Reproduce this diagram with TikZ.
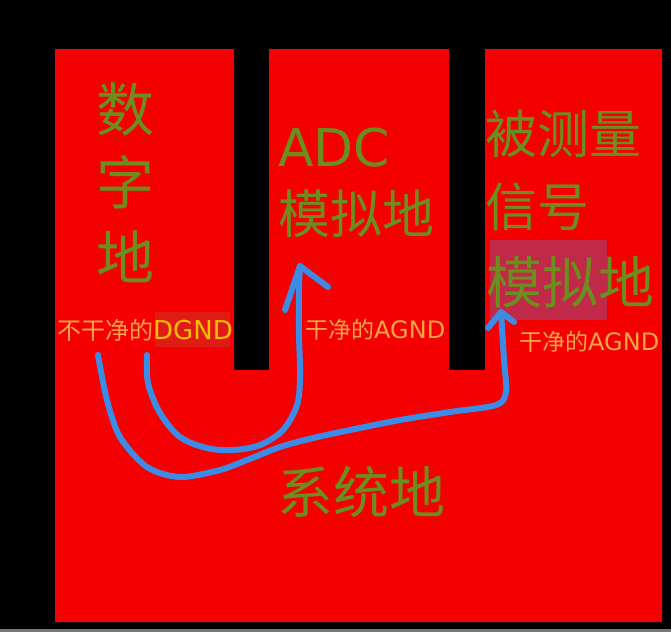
\documentclass[tikz,border=0pt]{standalone}
\usepackage{fontspec}
\newfontfamily\cjk{Noto Sans CJK SC}
\newfontfamily\lat{DejaVu Sans}
\definecolor{bgred}{RGB}{245,0,0}
\definecolor{txtgreen}{RGB}{108,142,30}
\definecolor{lblorange}{RGB}{255,165,70}
\definecolor{dgndyellow}{RGB}{255,190,0}
\definecolor{dgndbox}{RGB}{222,28,20}
\definecolor{pinkbox}{RGB}{192,42,72}
\definecolor{flowblue}{RGB}{60,140,230}
\definecolor{edgegray}{RGB}{120,120,120}
\begin{document}
\begin{tikzpicture}[x=1pt,y=-1pt,
  bigtxt/.style={inner sep=0pt,text=txtgreen,font=\cjk\fontsize{58}{58}\selectfont},
  midtxt/.style={inner sep=0pt,text=txtgreen,font=\cjk\fontsize{52}{52}\selectfont},
  lbl/.style={inner sep=0pt,text=lblorange,font=\cjk\fontsize{23}{23}\selectfont},
  flow/.style={draw=flowblue,line width=6pt,line cap=round,line join=round}]
% background
\fill[black] (0,0) rectangle (671,632);
\fill[edgegray] (0,629) rectangle (671,632);
\useasboundingbox (0,0) rectangle (671,632);
% red ground plane (comb shape)
\fill[bgred] (55,49) -- (234,49) -- (234,370) -- (269,370) -- (269,49) -- (449,49)
  -- (449,370) -- (485,370) -- (485,49) -- (662,49) -- (662,622) -- (55,622) -- cycle;
% highlight boxes
\fill[pinkbox] (490,240) rectangle (607,320);
\fill[dgndbox] (155,312) rectangle (230,347);
% digital ground
\node[bigtxt] (s1) at (125,110) {数};
\node[bigtxt] (s2) at (125,182) {字};
\node[bigtxt] (s3) at (125,257) {地};
% ADC analog ground
\node[midtxt,anchor=west] (adc) at (278,148) {\lat ADC};
\node[midtxt,anchor=west] (adcg) at (278,214) {模拟地};
% measured signal analog ground
\node[midtxt,anchor=west] (m1) at (485,134) {被测量};
\node[midtxt,anchor=west] (m2) at (485,207) {信号};
\node[inner sep=0pt,text=txtgreen,font=\cjk\fontsize{56}{56}\selectfont,anchor=west] (m3) at (486,282) {模拟地};
% system ground
\node[inner sep=0pt,text=txtgreen,font=\cjk\fontsize{56}{56}\selectfont] (sys) at (361,492) {系统地};
% labels
\node[lbl,anchor=west,font=\cjk\fontsize{24}{24}\selectfont] (l1) at (57,330) {不干净的{\lat\fontsize{26}{26}\selectfont\color{dgndyellow}DGND}};
\node[lbl,anchor=west] (l2) at (305,330) {干净的{\lat\fontsize{24}{24}\selectfont AGND}};
\node[lbl,anchor=west] (l3) at (519,342) {干净的{\lat\fontsize{24}{24}\selectfont AGND}};
% blue current paths
\coordinate (tipA) at (300,266);
\coordinate (tipB) at (501,312);
\draw[flow] plot[smooth,tension=0.55] coordinates {(147,355) (148,383) (160,413) (180,437) (207,448) (233,450) (260,445) (283,430) (297,405) (300,377) (299,333) (299,290) (tipA)};
\draw[flow] (285,310) -- (tipA) -- (328,287);
\draw[flow] plot[smooth,tension=0.5] coordinates {(98,355) (107,400) (120,437) (147,467) (180,477) (220,470) (247,460) (280,447) (313,438) (350,430) (400,420) (450,412) (496,405) (506,392) (504,360) (tipB)};
\draw[flow] (488,328) -- (tipB) -- (514,322);
\end{tikzpicture}
\end{document}
